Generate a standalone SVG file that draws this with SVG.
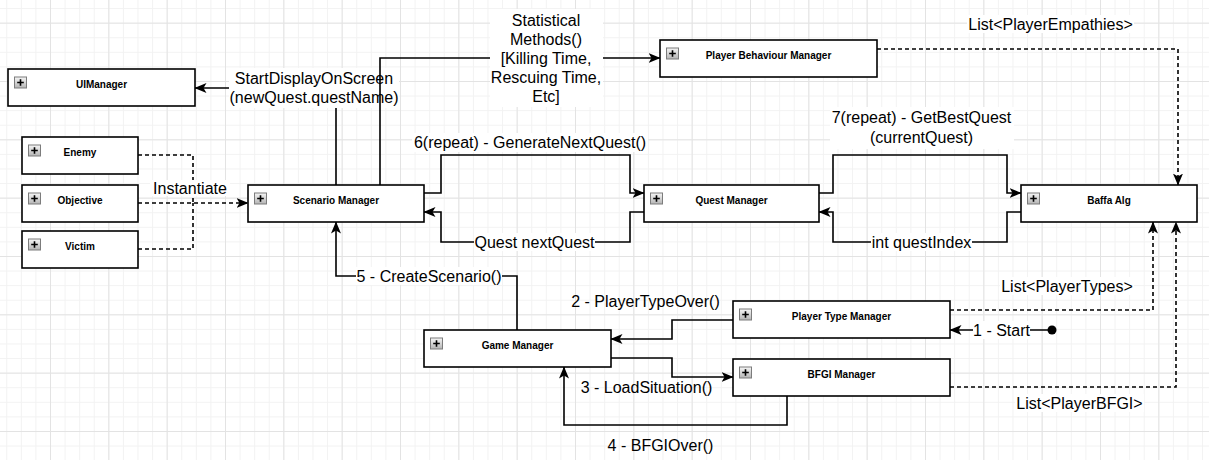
<svg xmlns="http://www.w3.org/2000/svg" width="1209" height="460" viewBox="0 0 1209 460">
<defs>
<pattern id="minor" width="14.583" height="14.583" patternUnits="userSpaceOnUse" x="50" y="22.65">
<path d="M0 0.5H14.583M0.5 0V14.583" fill="none" stroke="#f2f2f2" stroke-width="1"/>
</pattern>
<pattern id="major" width="58.333" height="58.333" patternUnits="userSpaceOnUse" x="50" y="22.65">
<path d="M0 0.5H58.333M0.5 0V58.333" fill="none" stroke="#e3e3e3" stroke-width="1"/>
</pattern>
<linearGradient id="ig" x1="0" y1="0" x2="0" y2="1">
<stop offset="0" stop-color="#f6f6f6"/>
<stop offset="1" stop-color="#b4b4b4"/>
</linearGradient>
<marker id="arr" markerUnits="userSpaceOnUse" markerWidth="12" markerHeight="10" viewBox="0 0 12 10" refX="11.5" refY="5" orient="auto">
<path d="M0,0 L12,5 L0,10 L3,5 Z" fill="#000"/>
</marker>
<g id="icon">
<rect x="0.5" y="0.5" width="12" height="11" fill="url(#ig)" stroke="#7c7c7c" stroke-width="1"/>
<path d="M3.2 6H9.8M6.5 2.7V9.3" stroke="#000" stroke-width="1.6"/>
</g>
</defs>
<style>
.box{fill:#fff;stroke:#000;stroke-width:1.6}
.nl{font-family:"Liberation Sans",Arial,sans-serif;font-size:10px;font-weight:bold;text-anchor:middle;fill:#000}
.el{font-family:"Liberation Sans",Arial,sans-serif;font-size:16px;text-anchor:middle;fill:#000}
.c{fill:none;stroke:#000;stroke-width:1.6}
.d{stroke-dasharray:4 3}
.bg{fill:#fff}
</style>
<rect width="1209" height="460" fill="#fff"/>
<rect width="1209" height="460" fill="url(#minor)"/>
<rect width="1209" height="460" fill="url(#major)"/>

<g id="connectors">
<g id="c-display">
<polyline class="c" points="336,185 336,88 195,88" marker-end="url(#arr)"/>
<rect class="bg" x="229" y="68" width="170" height="40"/>
<text class="el" x="314" y="84">StartDisplayOnScreen</text>
<text class="el" x="314" y="103">(newQuest.questName)</text>
</g>
<g id="c-stats">
<polyline class="c" points="380,185 380,58 660,58" marker-end="url(#arr)"/>
<rect class="bg" x="490" y="9" width="113" height="98"/>
<text class="el" x="546" y="26">Statistical</text>
<text class="el" x="546" y="45">Methods()</text>
<text class="el" x="546" y="64">[Killing Time,</text>
<text class="el" x="546" y="83">Rescuing Time,</text>
<text class="el" x="546" y="102">Etc]</text>
</g>
<g id="c-instantiate">
<path class="c d" d="M138 155H193V203M138 249H193V203"/>
<polyline class="c d" points="138,203 248,203" marker-end="url(#arr)"/>
<rect class="bg" x="150" y="180" width="80" height="16"/>
<text class="el" x="190" y="194">Instantiate</text>
</g>
<g id="c-generate">
<polyline class="c" points="424,193 441,193 441,155 630,155 630,193 644,193" marker-end="url(#arr)"/>
<rect class="bg" x="412" y="133" width="236" height="19"/>
<text class="el" x="530" y="148">6(repeat) - GenerateNextQuest()</text>
</g>
<g id="c-nextquest">
<polyline class="c" points="644,212 630,212 630,242 441,242 441,212 424,212" marker-end="url(#arr)"/>
<rect class="bg" x="474" y="233" width="121" height="18"/>
<text class="el" x="534.5" y="248">Quest nextQuest</text>
</g>
<g id="c-bestquest">
<polyline class="c" points="819,193 833,193 833,155 1007,155 1007,193 1021,193" marker-end="url(#arr)"/>
<rect class="bg" x="830" y="107" width="184" height="42"/>
<text class="el" x="921.5" y="123">7(repeat) - GetBestQuest</text>
<text class="el" x="921.5" y="143">(currentQuest)</text>
</g>
<g id="c-questindex">
<polyline class="c" points="1021,212 1007,212 1007,242 833,242 833,212 819,212" marker-end="url(#arr)"/>
<rect class="bg" x="871" y="233" width="101" height="18"/>
<text class="el" x="921.5" y="248">int questIndex</text>
</g>
<g id="c-empathies">
<polyline class="c d" points="877,49 1178,49 1178,185" marker-end="url(#arr)"/>
<rect class="bg" x="967" y="15" width="167" height="18"/>
<text class="el" x="1050.5" y="30">List&lt;PlayerEmpathies&gt;</text>
</g>
<g id="c-types">
<polyline class="c d" points="950,310 1153,310 1153,222" marker-end="url(#arr)"/>
<rect class="bg" x="1000" y="277" width="134" height="18"/>
<text class="el" x="1067" y="292">List&lt;PlayerTypes&gt;</text>
</g>
<g id="c-bfgi">
<polyline class="c d" points="950,387 1176,387 1176,222" marker-end="url(#arr)"/>
<rect class="bg" x="1015" y="394" width="129" height="18"/>
<text class="el" x="1079.5" y="409">List&lt;PlayerBFGI&gt;</text>
</g>
<g id="c-start">
<circle cx="1052" cy="330" r="4.5" fill="#000"/>
<polyline class="c" points="1052,330 950,330" marker-end="url(#arr)"/>
<rect class="bg" x="973" y="321" width="57" height="18"/>
<text class="el" x="1001.5" y="336">1 - Start</text>
</g>
<g id="c-typeover">
<polyline class="c" points="733,320 672,320 672,339 611,339" marker-end="url(#arr)"/>
<text class="el" x="645.5" y="307">2 - PlayerTypeOver()</text>
</g>
<g id="c-load">
<polyline class="c" points="611,358 672,358 672,377 733,377" marker-end="url(#arr)"/>
<text class="el" x="646.5" y="393">3 - LoadSituation()</text>
</g>
<g id="c-bfgiover">
<polyline class="c" points="787,396 787,425 564,425 564,367" marker-end="url(#arr)"/>
<text class="el" x="660.5" y="451">4 - BFGIOver()</text>
</g>
<g id="c-create">
<polyline class="c" points="517,330 517,276 336,276 336,222" marker-end="url(#arr)"/>
<rect class="bg" x="356" y="267" width="146" height="18"/>
<text class="el" x="429" y="281.5">5 - CreateScenario()</text>
</g>
</g>

<g id="n-uimanager"><rect class="box" x="8" y="69" width="187" height="37"/><use href="#icon" x="14" y="76.5"/><text class="nl" x="101.5" y="87.5">UIManager</text></g>
<g id="n-enemy"><rect class="box" x="22" y="137" width="116" height="37"/><use href="#icon" x="28" y="144.5"/><text class="nl" x="80" y="155.5">Enemy</text></g>
<g id="n-objective"><rect class="box" x="22" y="185" width="116" height="37"/><use href="#icon" x="28" y="192.5"/><text class="nl" x="80" y="203.5">Objective</text></g>
<g id="n-victim"><rect class="box" x="22" y="231" width="116" height="37"/><use href="#icon" x="28" y="238.5"/><text class="nl" x="80" y="249.5">Victim</text></g>
<g id="n-scenario"><rect class="box" x="248" y="185" width="176" height="37"/><use href="#icon" x="254" y="192.5"/><text class="nl" x="336" y="203.5">Scenario Manager</text></g>
<g id="n-quest"><rect class="box" x="644" y="185" width="175" height="37"/><use href="#icon" x="650" y="192.5"/><text class="nl" x="731.5" y="203.5">Quest Manager</text></g>
<g id="n-baffa"><rect class="box" x="1021" y="185" width="176" height="37"/><use href="#icon" x="1027" y="192.5"/><text class="nl" x="1109" y="203.5">Baffa Alg</text></g>
<g id="n-behaviour"><rect class="box" x="660" y="40" width="217" height="37"/><use href="#icon" x="666" y="47.5"/><text class="nl" x="768.5" y="58.5">Player Behaviour Manager</text></g>
<g id="n-game"><rect class="box" x="424" y="330" width="187" height="37"/><use href="#icon" x="430" y="337.5"/><text class="nl" x="517.5" y="348.5">Game Manager</text></g>
<g id="n-playertype"><rect class="box" x="733" y="301" width="217" height="37"/><use href="#icon" x="739" y="308.5"/><text class="nl" x="841.5" y="319.5">Player Type Manager</text></g>
<g id="n-bfgi"><rect class="box" x="733" y="359" width="217" height="37"/><use href="#icon" x="739" y="366.5"/><text class="nl" x="841.5" y="377.5">BFGI Manager</text></g>
</svg>
